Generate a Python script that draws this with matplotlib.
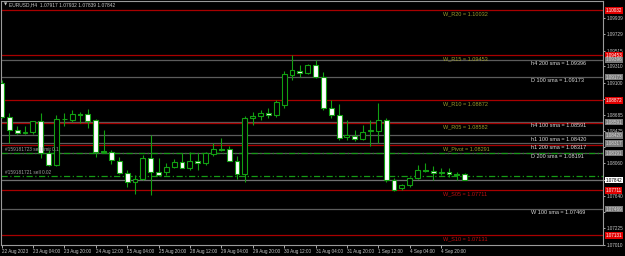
import matplotlib
matplotlib.use("Agg")
import matplotlib.pyplot as plt
import numpy as np

title_text = "EURUSD,H4  1.07917 1.07932 1.07839 1.07842"

opens = [1.09096, 1.08658, 1.08490, 1.08451, 1.08464, 1.08606, 1.08193, 1.08038, 1.08632, 1.08619,
         1.08696, 1.08696, 1.08619, 1.08219, 1.08206, 1.08090, 1.07935, 1.07819, 1.07858, 1.08129,
         1.07948, 1.07948, 1.08012, 1.08077, 1.07999, 1.08090, 1.08064, 1.08180, 1.08245, 1.08245,
         1.08090, 1.07922, 1.08645, 1.08671, 1.08709, 1.08683, 1.08813, 1.09200, 1.09251, 1.09225,
         1.09328, 1.09174, 1.08774, 1.08683, 1.08400, 1.08413, 1.08374, 1.08477, 1.08477, 1.08619,
         1.07845, 1.07742, 1.07781, 1.07871, 1.07974, 1.07961, 1.07935, 1.07948, 1.07922, 1.07917]
highs = [1.09135, 1.08709, 1.08542, 1.08542, 1.08606, 1.08709, 1.08232, 1.08683, 1.08709, 1.08748,
         1.08722, 1.08761, 1.08632, 1.08490, 1.08232, 1.08142, 1.07974, 1.07909, 1.08167, 1.08426,
         1.08129, 1.08064, 1.08116, 1.08193, 1.08206, 1.08193, 1.08206, 1.08322, 1.08387, 1.08284,
         1.08155, 1.08671, 1.08722, 1.08748, 1.08774, 1.08877, 1.09251, 1.09458, 1.09328, 1.09341,
         1.09393, 1.09238, 1.08877, 1.08825, 1.08619, 1.08490, 1.08555, 1.08619, 1.08838, 1.08645,
         1.07871, 1.07793, 1.07884, 1.08038, 1.08064, 1.08025, 1.07999, 1.07999, 1.07948, 1.07932]
lows = [1.08645, 1.08322, 1.08438, 1.08438, 1.08438, 1.08129, 1.08025, 1.08025, 1.08542, 1.08593,
        1.08580, 1.08516, 1.08142, 1.08193, 1.08051, 1.07922, 1.07755, 1.07664, 1.07845, 1.07652,
        1.07896, 1.07909, 1.07999, 1.07999, 1.07974, 1.07974, 1.08038, 1.08155, 1.08219, 1.08090,
        1.07858, 1.07819, 1.08555, 1.08619, 1.08645, 1.08658, 1.08774, 1.09135, 1.09174, 1.09212,
        1.09161, 1.08748, 1.08645, 1.08361, 1.08361, 1.08348, 1.08361, 1.08284, 1.08322, 1.07819,
        1.07703, 1.07716, 1.07755, 1.07858, 1.07948, 1.07845, 1.07909, 1.07884, 1.07845, 1.07839]
closes = [1.08658, 1.08490, 1.08451, 1.08464, 1.08606, 1.08193, 1.08038, 1.08632, 1.08626, 1.08696,
          1.08690, 1.08606, 1.08206, 1.08206, 1.08103, 1.07935, 1.07819, 1.07858, 1.08129, 1.07948,
          1.07909, 1.08012, 1.08077, 1.07999, 1.08090, 1.08071, 1.08193, 1.08245, 1.08238, 1.08090,
          1.07922, 1.08645, 1.08671, 1.08709, 1.08683, 1.08851, 1.09212, 1.09264, 1.09225, 1.09328,
          1.09174, 1.08774, 1.08683, 1.08387, 1.08426, 1.08374, 1.08464, 1.08490, 1.08619, 1.07845,
          1.07716, 1.07781, 1.07871, 1.07974, 1.07967, 1.07935, 1.07948, 1.07922, 1.07916, 1.07842]

time_labels = ["22 Aug 2023", "23 Aug 04:00", "23 Aug 20:00", "24 Aug 12:00", "25 Aug 04:00",
               "25 Aug 20:00", "28 Aug 12:00", "29 Aug 04:00", "29 Aug 20:00", "30 Aug 12:00",
               "31 Aug 04:00", "31 Aug 20:00", "1 Sep 12:00", "4 Sep 04:00", "4 Sep 20:00"]
time_label_step = 4

price_ticks = [1.09939, 1.09729, 1.09515, 1.09310, 1.09100, 1.08890, 1.08685, 1.08475,
               1.08265, 1.08060, 1.07850, 1.07640, 1.07430, 1.07225, 1.07010]

pivot_names = ["W_R20", "W_R15", "W_R10", "W_R05", "W_Pivot", "W_S05", "W_S10"]
pivot_values = [1.10032, 1.09453, 1.08872, 1.08582, 1.08291, 1.07711, 1.07131]

sma_names = ["h4 200 sma", "D 100 sma", "h4 100 sma", "h1 100 sma", "h1 200 sma", "D 200 sma", "W 100 sma"]
sma_values = [1.09396, 1.09173, 1.08591, 1.08420, 1.08317, 1.08191, 1.07469]

order_names = ["#159181723 sell limit 0.1", "#159181721 sell 0.02"]
order_prices = [1.08200, 1.07900]

bid_price = 1.07842

# ---------------- style ----------------
plt.rcParams['font.family'] = ["Liberation Sans", "DejaVu Sans"]
GREEN = '#12a012'
RED_LINE = '#a80000'
GREY_LINE = '#5c5c5c'
AXIS_COL = '#9a9a9a'
TXT = '#c8c8c8'

fig = plt.figure(figsize=(6.25, 2.56), dpi=100, facecolor='black')
ax = fig.add_axes([1 / 625, 11 / 256, 602 / 625, 244 / 256])
ax.set_facecolor('black')

n = len(opens)
x = np.arange(n)
o = np.array(opens); h = np.array(highs); l = np.array(lows); c = np.array(closes)
up = c >= o

ax.set_xlim(-0.064, 76.62)
ax.set_ylim(1.07007, 1.10154)

# horizontal levels
for v in sma_values:
    ax.axhline(v, color=GREY_LINE, lw=0.9, zorder=1)
for v in pivot_values:
    ax.axhline(v, color=RED_LINE, lw=0.9, zorder=1.2)
for v in order_prices:
    ax.axhline(v, color='#169a16', lw=0.9, ls=(0, (5, 2, 1, 2)), zorder=1.4)
ax.axhline(bid_price, color='#707070', lw=0.9, zorder=1.3)

# candles
ax.vlines(x, l, h, color=GREEN, lw=0.8, zorder=3)
body_bottom = np.minimum(o, c)
body_h = np.maximum(np.abs(c - o), 0.000008)
ax.bar(x, body_h, bottom=body_bottom, width=0.62,
       color=np.where(up, 'black', 'white'), edgecolor=GREEN, linewidth=0.8, zorder=4)

# level labels
for name, v in zip(pivot_names, pivot_values):
    col = '#c01010' if name.startswith('W_S') else '#9a9a2c'
    ax.annotate(f"{name} = {v:.5f}", xy=(0.734, v), xycoords=('axes fraction', 'data'),
                xytext=(0, -0.8), textcoords='offset points', va='top', ha='left',
                fontsize=4, color=col, zorder=5)
for name, v in zip(sma_names, sma_values):
    ax.annotate(f"{name} = {v:.5f}", xy=(0.880, v), xycoords=('axes fraction', 'data'),
                xytext=(0, -0.8), textcoords='offset points', va='top', ha='left',
                fontsize=4, color='#d8d8d8', zorder=5)
for name, v in zip(order_names, order_prices):
    ax.annotate(name, xy=(0.007, v), xycoords=('axes fraction', 'data'),
                xytext=(0, 0.5), textcoords='offset points', va='bottom', ha='left',
                fontsize=3.4, color='#a0a0a0', zorder=5)

# boxes on the price scale
grey_boxes = list(sma_values)
red_boxes = [v for v in pivot_values if min(abs(v - g) for g in grey_boxes) > 0.0004]
all_boxes = grey_boxes + red_boxes + [bid_price]

# axes / ticks (labels covered by a box are hidden, like on the terminal)
ax.yaxis.tick_right()
ax.set_yticks(price_ticks)
ax.set_yticklabels([f"{v:.5f}" if min(abs(v - b) for b in all_boxes) > 0.00053 else ""
                    for v in price_ticks])
ax.tick_params(axis='y', colors=TXT, labelsize=3.3, length=1.5, width=0.6, pad=1.5)
xt = list(range(0, time_label_step * len(time_labels), time_label_step))
ax.set_xticks(xt)
ax.set_xticklabels(time_labels, ha='left')
ax.tick_params(axis='x', colors=TXT, labelsize=3.3, length=2, width=0.6, pad=1.2)
for s in ax.spines.values():
    s.set_color(AXIS_COL)
    s.set_linewidth(0.8)


def price_box(v, fc, tc):
    ax.annotate(f"{v:.5f}", xy=(1.0, v), xycoords=('axes fraction', 'data'),
                xytext=(1.8, 0), textcoords='offset points', va='center', ha='left',
                fontsize=3.3, color=tc, annotation_clip=False, zorder=6,
                bbox=dict(boxstyle='square,pad=0.15', fc=fc, ec='none'))


for v in red_boxes:
    price_box(v, '#e00000', 'white')
for v in grey_boxes:
    price_box(v, '#7a7a7a', '#d8d8d8')
price_box(bid_price, 'white', 'black')

# title
fig.text(4 / 625, 1 - 5 / 256, "\u25bc", fontsize=3, color=TXT, va='center', ha='left',
         family=["DejaVu Sans"])
fig.text(9 / 625, 1 - 5 / 256, title_text, fontsize=3.5, color=TXT, va='center', ha='left')

fig.savefig("out.png", dpi=100, facecolor='black')
